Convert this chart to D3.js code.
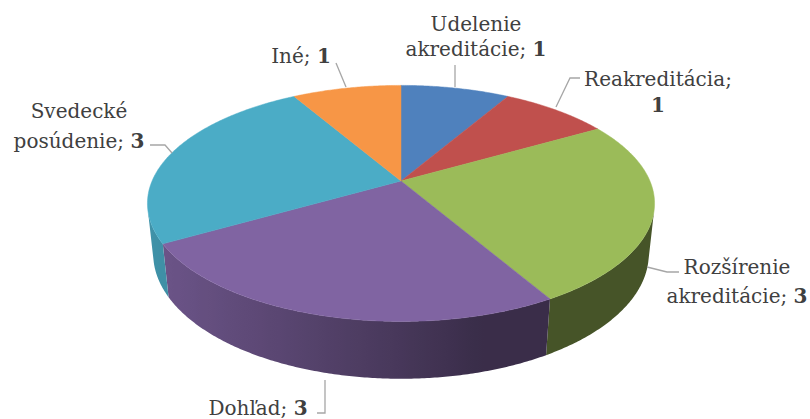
<!DOCTYPE html>
<html>
<head>
<meta charset="utf-8">
<script src="https://cdn.jsdelivr.net/npm/d3@7"></script>
<style>
  html, body { margin: 0; padding: 0; background: #ffffff; }
  svg { display: block; }
</style>
</head>
<body>
<svg id="chart" width="810" height="419"></svg>
<script>
// Chart data
const categories = ["Udelenie akreditácie", "Reakreditácia", "Rozšírenie akreditácie", "Dohľad", "Svedecké posúdenie", "Iné"];
const values = [1, 1, 3, 3, 3, 1];
const colors = ["#4F81BD", "#C0504D", "#9BBB59", "#8064A2", "#4BACC6", "#F79646"];

// Label layout: words per line, whether the value goes on its own line,
// the text anchor point for the first baseline, line spacing and leader polyline.
const labelLayout = [
  { words: [1, 1], valueOwnLine: false, x: 476, y: 31, dy: 25, leader: [[455, 65], [455, 87]] },
  { words: [1],    valueOwnLine: true,  x: 658, y: 86, dy: 26, leader: [[556, 107], [570, 78], [580, 78]] },
  { words: [1, 1], valueOwnLine: false, x: 737, y: 274, dy: 29, leader: [[647, 267], [667, 272], [679, 272]] },
  { words: [1],    valueOwnLine: false, x: 258, y: 415, dy: 0, leader: [[325, 380], [325, 413], [317, 413]] },
  { words: [1, 1], valueOwnLine: false, x: 79, y: 118, dy: 30, leader: [[172, 153], [165, 145], [150, 145]] },
  { words: [1],    valueOwnLine: false, x: 301, y: 63, dy: 0, leader: [[336, 63], [346, 87]] }
];

const svg = d3.select("#chart");
const defs = svg.append("defs");

// Perspective camera for the tilted disc
const cam = { cx: 401, cy: 181, sinT: 0.457, cosT: 0.889, dist: 4.68, focal: 1165, depth: 0.23 };

function project(theta, z) {
  const X = Math.sin(theta), Y = Math.cos(theta);
  const xc = X;
  const yc = Y * cam.sinT + z * cam.cosT;
  const zc = cam.dist + Y * cam.cosT - z * cam.sinT;
  return [cam.cx + cam.focal * xc / zc, cam.cy - cam.focal * yc / zc];
}
const centerPt = (z) => {
  const yc = z * cam.cosT, zc = cam.dist - z * cam.sinT;
  return [cam.cx, cam.cy - cam.focal * yc / zc];
};

const pie = d3.pie().sort(null).value(d => d).startAngle(0).endAngle(2 * Math.PI);
const arcs = pie(values);

const line = d3.line();
const step = Math.PI / 360;

// Side wall is visible only where its outward normal faces the camera
const visLimit = -1 / (cam.dist * cam.cosT);
const visFrom = Math.acos(visLimit);
const visTo = 2 * Math.PI - visFrom;

function shade(theta) {
  const t = Math.cos(theta - (255 * Math.PI / 180));
  return 0.45 + 0.4 * Math.max(0, t);
}

function sampleAngles(a0, a1) {
  const n = Math.max(2, Math.ceil((a1 - a0) / step));
  return d3.range(n + 1).map(j => a0 + (a1 - a0) * j / n);
}

// Outer side walls, shaded with a horizontal gradient along the rim
const walls = svg.append("g").attr("class", "walls");
arcs.forEach((a, i) => {
  const t0 = Math.max(a.startAngle, visFrom);
  const t1 = Math.min(a.endAngle, visTo);
  if (t1 <= t0) return;
  const base = d3.rgb(colors[i]);
  const ts = sampleAngles(t0, t1);
  const xA = project(t0, 0)[0], xB = project(t1, 0)[0];
  const grad = defs.append("linearGradient")
    .attr("id", "wall" + i)
    .attr("gradientUnits", "userSpaceOnUse")
    .attr("x1", xA).attr("x2", xB).attr("y1", 0).attr("y2", 0);
  ts.filter((t, j) => j % 4 === 0 || j === ts.length - 1).forEach(t => {
    const k = shade(t);
    grad.append("stop")
      .attr("offset", Math.max(0, Math.min(1, (project(t, 0)[0] - xA) / (xB - xA))))
      .attr("stop-color", d3.rgb(base.r * k, base.g * k, base.b * k).toString());
  });
  const pts = ts.map(t => project(t, 0)).concat(ts.slice().reverse().map(t => project(t, -cam.depth)));
  walls.append("path")
    .attr("d", line(pts) + "Z")
    .attr("fill", `url(#wall${i})`);
});

// Top faces of the slices
const tops = svg.append("g").attr("class", "tops");
arcs.forEach((a, i) => {
  const pts = [centerPt(0)].concat(sampleAngles(a.startAngle, a.endAngle).map(t => project(t, 0)));
  tops.append("path")
    .attr("d", line(pts) + "Z")
    .attr("fill", colors[i])
    .attr("stroke", colors[i])
    .attr("stroke-width", 0.5)
    .attr("stroke-linejoin", "round");
});

// Leader lines
const leaders = svg.append("g").attr("class", "leaders");
labelLayout.forEach(l => {
  leaders.append("path")
    .attr("d", line(l.leader))
    .attr("fill", "none")
    .attr("stroke", "#a6a6a6")
    .attr("stroke-width", 1.3);
});

// Data labels
const labels = svg.append("g").attr("class", "labels")
  .attr("font-family", "'DejaVu Serif', 'Liberation Serif', serif")
  .attr("font-size", 20)
  .attr("fill", "#404040");

categories.forEach((name, i) => {
  const l = labelLayout[i];
  const words = name.split(" ");
  const lines = [];
  let w = 0;
  l.words.forEach(cnt => { lines.push(words.slice(w, w + cnt).join(" ")); w += cnt; });
  const text = labels.append("text").attr("text-anchor", "middle");
  lines.forEach((ln, j) => {
    const last = j === lines.length - 1;
    text.append("tspan").attr("x", l.x).attr("y", l.y + j * l.dy)
      .text(last ? ln + ";" + (l.valueOwnLine ? "" : " ") : ln);
    if (last && !l.valueOwnLine) {
      text.append("tspan").attr("font-weight", "bold").text(values[i]);
    }
  });
  if (l.valueOwnLine) {
    text.append("tspan").attr("x", l.x).attr("y", l.y + lines.length * l.dy)
      .attr("font-weight", "bold").text(values[i]);
  }
});
</script>
</body>
</html>
